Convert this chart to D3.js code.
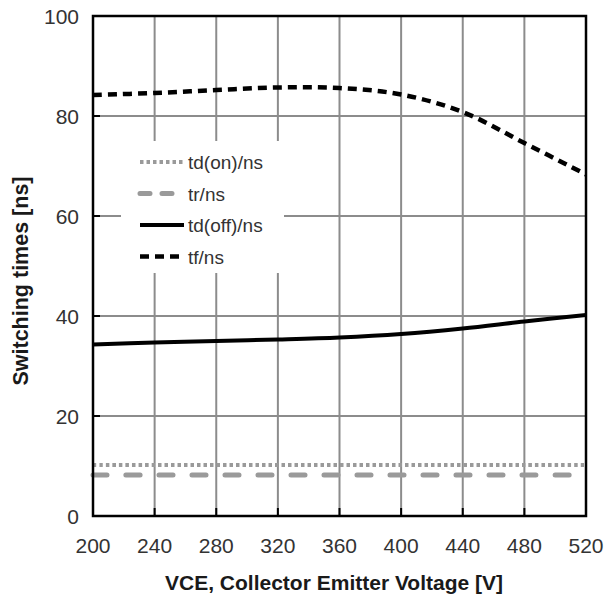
<!DOCTYPE html>
<html>
<head>
<meta charset="utf-8">
<script src="https://cdn.jsdelivr.net/npm/d3@7"></script>
<style>
  body { margin: 0; background: #fff; }
  text { font-family: "Liberation Sans", Arial, sans-serif; }
</style>
</head>
<body>
<div id="chart"></div>
<script>
// values
const voltages = [200, 240, 280, 320, 360, 400, 440, 480, 520];
const tdOn  = [10.2, 10.2, 10.2, 10.2, 10.2, 10.2, 10.2, 10.2, 10.2];
const tr    = [8.2, 8.2, 8.2, 8.2, 8.2, 8.2, 8.2, 8.2, 8.2];
const tdOff = [34.3, 34.7, 35.0, 35.3, 35.7, 36.4, 37.5, 38.9, 40.2];
const tf    = [84.2, 84.6, 85.2, 85.7, 85.6, 84.3, 80.8, 74.6, 68.3];

const xTicks = [200, 240, 280, 320, 360, 400, 440, 480, 520];
const yTicks = [0, 20, 40, 60, 80, 100];

const series = [
  { name: "td(on)/ns", values: tdOn, color: "#9a9a9a", width: 4, dash: "3.5,3", cap: "butt" },
  { name: "tr/ns", values: tr, color: "#9a9a9a", width: 5, dash: "14,19", cap: "round" },
  { name: "td(off)/ns", values: tdOff, color: "#000", width: 4, dash: null, cap: "butt" },
  { name: "tf/ns", values: tf, color: "#000", width: 4.5, dash: "9,6", cap: "butt" }
];

const W = 605, H = 600;
const m = { top: 16, right: 19, bottom: 84, left: 93 };

const svg = d3.select("#chart").append("svg")
  .attr("width", W).attr("height", H);

const x = d3.scaleLinear().domain([200, 520]).range([m.left, W - m.right]);
const y = d3.scaleLinear().domain([0, 100]).range([H - m.bottom, m.top]);

// grid
svg.append("g").selectAll("line").data(xTicks.slice(1, -1)).join("line")
  .attr("x1", d => x(d)).attr("x2", d => x(d))
  .attr("y1", y(0)).attr("y2", y(100))
  .attr("stroke", "#8c8c8c").attr("stroke-width", 2);
svg.append("g").selectAll("line").data(yTicks.slice(1, -1)).join("line")
  .attr("x1", x(200)).attr("x2", x(520))
  .attr("y1", d => y(d)).attr("y2", d => y(d))
  .attr("stroke", "#8c8c8c").attr("stroke-width", 2);

// legend box (covers grid)
const lg = svg.append("g");
lg.append("rect")
  .attr("x", 121).attr("y", 141).attr("width", 163).attr("height", 132)
  .attr("fill", "#fff");

// lines
const line = vals => d3.line()
  .x((d, i) => x(voltages[i]))
  .y(d => y(d))
  .curve(d3.curveCatmullRom.alpha(0.5))(vals);

svg.append("g").selectAll("path").data(series).join("path")
  .attr("d", d => line(d.values))
  .attr("fill", "none")
  .attr("stroke", d => d.color)
  .attr("stroke-width", d => d.width)
  .attr("stroke-dasharray", d => d.dash)
  .attr("stroke-linecap", d => d.cap);

// frame
svg.append("rect")
  .attr("x", x(200)).attr("y", y(100))
  .attr("width", x(520) - x(200)).attr("height", y(0) - y(100))
  .attr("fill", "none").attr("stroke", "#000").attr("stroke-width", 2.5);

// inward ticks
svg.append("g").selectAll("line").data(xTicks.slice(1, -1)).join("line")
  .attr("x1", d => x(d)).attr("x2", d => x(d))
  .attr("y1", y(0)).attr("y2", y(0) - 8)
  .attr("stroke", "#000").attr("stroke-width", 2);
svg.append("g").selectAll("line").data(yTicks.slice(1, -1)).join("line")
  .attr("x1", x(200)).attr("x2", x(200) + 7)
  .attr("y1", d => y(d)).attr("y2", d => y(d))
  .attr("stroke", "#000").attr("stroke-width", 2);

// tick labels
svg.append("g").selectAll("text").data(xTicks).join("text")
  .attr("x", d => x(d)).attr("y", 553)
  .attr("text-anchor", "middle")
  .attr("font-size", 21).attr("fill", "#333")
  .text(d => d);
svg.append("g").selectAll("text").data(yTicks).join("text")
  .attr("x", 79).attr("y", d => y(d) + 7.5)
  .attr("text-anchor", "end")
  .attr("font-size", 21).attr("fill", "#333")
  .text(d => d);

// axis titles
svg.append("text")
  .attr("x", 334).attr("y", 590)
  .attr("text-anchor", "middle")
  .attr("font-size", 21).attr("font-weight", "bold").attr("fill", "#1a1a1a")
  .text("VCE, Collector Emitter Voltage [V]");
svg.append("text")
  .attr("transform", "translate(28,281) rotate(-90)")
  .attr("text-anchor", "middle")
  .attr("font-size", 21.5).attr("font-weight", "bold").attr("fill", "#1a1a1a")
  .text("Switching times [ns]");

// legend entries
const rows = lg.selectAll("g.row").data(series).join("g")
  .attr("class", "row")
  .attr("transform", (d, i) => `translate(0,${162 + i * 31.5})`);
rows.append("line")
  .attr("x1", 140).attr("x2", 184)
  .attr("stroke", d => d.color)
  .attr("stroke-width", d => d.width)
  .attr("stroke-dasharray", d => d.name === "tr/ns" ? "10,12" : d.dash)
  .attr("stroke-linecap", d => d.cap);
rows.append("text")
  .attr("x", 188).attr("y", 7)
  .attr("font-size", 19).attr("fill", "#333")
  .text(d => d.name);
</script>
</body>
</html>
